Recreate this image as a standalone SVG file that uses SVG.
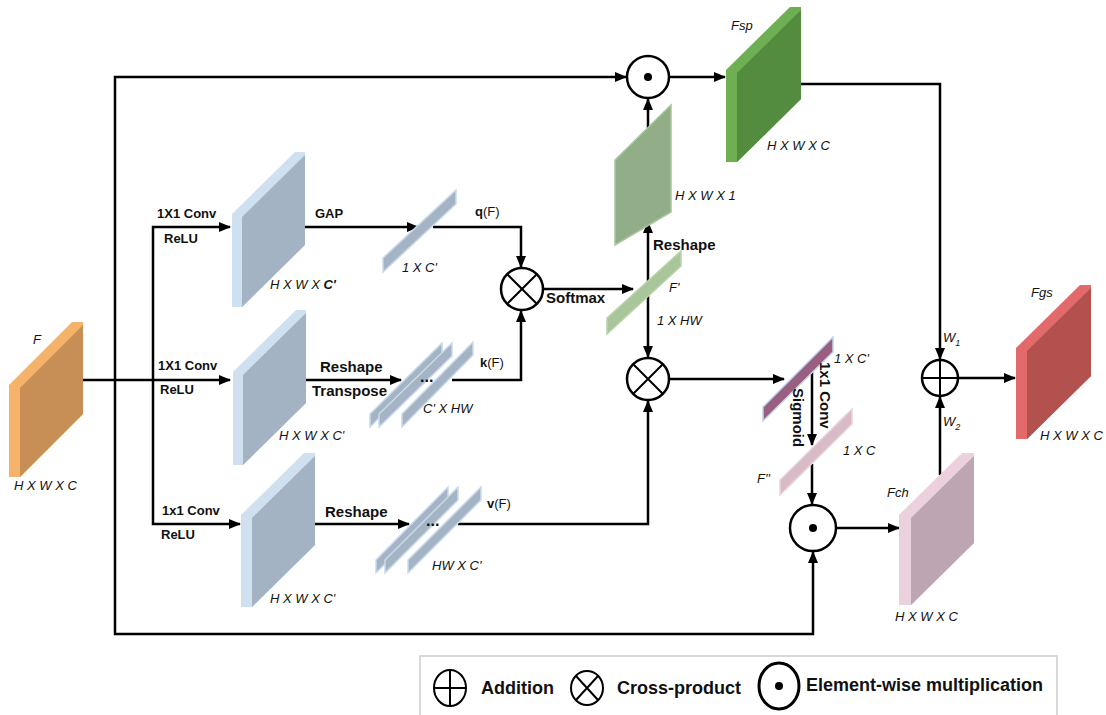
<svg xmlns="http://www.w3.org/2000/svg" width="1106" height="715" viewBox="0 0 1106 715">
<defs>
<marker id="ah" markerWidth="12" markerHeight="10" refX="11" refY="5" markerUnits="userSpaceOnUse" orient="auto-start-reverse"><path d="M0,0 L12,5 L0,10 z" fill="#000"/></marker>
<style>
text{font-family:"Liberation Sans",Arial,sans-serif;fill:#111}
.b{font-weight:bold;font-size:13px}
.b15{font-weight:bold;font-size:15px}
.i{font-style:italic;font-size:13px}
.lg{font-weight:bold;font-size:18px}
.c{fill:none;stroke:#000;stroke-width:2.5;marker-end:url(#ah)}
.op{fill:#fff;stroke:#000;stroke-width:2.5}
.opl{stroke:#000;stroke-width:2}
.bl{fill:#CFE0F1}.bd{fill:#A3B3C3}
.st{fill:#A4B4C4;stroke:#C9DAEC;stroke-width:1.5}
</style>
</defs>
<rect width="1106" height="715" fill="#fff"/>

<g id="connectors">
<path class="c" d="M83,380 H230"/>
<path class="c" d="M153,380 V227 H230"/>
<path class="c" d="M153,380 V524 H240"/>
<path class="c" d="M115,380 V77 H626"/>
<path class="c" d="M115,380 V634 H813 V552"/>
<path class="c" d="M305,227 H418"/>
<path class="c" d="M433,227 H521 V267"/>
<path class="c" d="M306,380 H401"/>
<path class="c" d="M452,380 H521 V311"/>
<path class="c" d="M315,524 H409"/>
<path class="c" d="M458,524 H648 V401"/>
<path class="c" d="M543,289 H633"/>
<path class="c" d="M648,357 V222" style="marker-start:url(#ah)"/>
<path class="c" d="M648,128 V99"/>
<path class="c" d="M670,77 H725"/>
<path class="c" d="M801,84 H940 V359"/>
<path class="c" d="M669,379 H784"/>
<path class="c" d="M812,372 V445"/>
<path class="c" d="M812,464 V504"/>
<path class="c" d="M836,528 H899"/>
<path class="c" d="M940,475 V397"/>
<path class="c" d="M958,378 H1015"/>
</g>

<g id="node-F">
<polygon points="9,385 72,322 83,322 83,414 20,477 9,477" fill="#F5B26B"/>
<polygon points="20,388 83,325 83,414 20,477" fill="#C78F55"/>
<text class="i" x="33" y="344" font-size="14">F</text>
<text class="i" x="14" y="490">H X W X C</text>
</g>

<g id="node-conv1">
<polygon class="bl" points="232,214 295,152 305,152 305,245 242,307 232,307"/>
<polygon class="bd" points="242,217 305,155 305,245 242,307"/>
<text class="b" x="157" y="218">1X1 Conv</text>
<text class="b" x="164" y="243">ReLU</text>
<text class="i" x="270" y="289">H X W X <tspan font-weight="bold">C'</tspan></text>
<text class="b" x="315" y="218">GAP</text>
</g>

<g id="node-q">
<polygon class="st" points="383,258 456,190 456,204 383,272"/>
<text class="i" x="402" y="272">1 X C'</text>
<text x="475" y="216" font-size="13"><tspan font-weight="bold">q</tspan>(F)</text>
</g>

<g id="node-conv2">
<polygon class="bl" points="233,372 296,310 306,310 306,403 243,465 233,465"/>
<polygon class="bd" points="243,375 306,313 306,403 243,465"/>
<text class="b" x="158" y="370">1X1 Conv</text>
<text class="b" x="160" y="394">ReLU</text>
<text class="i" x="279" y="440">H X W X C'</text>
<text class="b15" x="320" y="372">Reshape</text>
<text class="b15" x="312" y="396">Transpose</text>
</g>

<g id="node-k">
<polygon class="st" points="370,414 442,343 442,356 370,427"/>
<polygon class="st" points="379,414 452,343 452,356 379,427"/>
<polygon class="st" points="402,414 473,342 473,355 402,427"/>
<text x="420" y="382" font-size="16" font-weight="bold">...</text>
<text class="i" x="423" y="413">C' X HW</text>
<text x="480" y="367" font-size="13"><tspan font-weight="bold">k</tspan>(F)</text>
</g>

<g id="node-conv3">
<polygon class="bl" points="241,515 304,453 315,453 315,545 252,607 241,607"/>
<polygon class="bd" points="252,518 315,456 315,545 252,607"/>
<text class="b" x="162" y="515">1x1 Conv</text>
<text class="b" x="161" y="539">ReLU</text>
<text class="i" x="270" y="603">H X W X C'</text>
<text class="b15" x="325" y="517">Reshape</text>
</g>

<g id="node-v">
<polygon class="st" points="376,560 448,487 448,500 376,573"/>
<polygon class="st" points="385,560 458,487 458,500 385,573"/>
<polygon class="st" points="408,560 481,487 481,500 408,573"/>
<text x="426" y="526" font-size="16" font-weight="bold">...</text>
<text class="i" x="432" y="570">HW X C'</text>
<text x="487" y="508" font-size="13"><tspan font-weight="bold">v</tspan>(F)</text>
</g>

<g id="node-cross1">
<circle class="op" cx="522" cy="289" r="21"/>
<path class="opl" d="M507,274 L537,304 M537,274 L507,304"/>
<text class="b15" x="546" y="303">Softmax</text>
</g>

<g id="node-Fprime">
<polygon points="607,318 681,251 681,266 607,334" fill="#A8C69A" stroke="#B9D3AC" stroke-width="1.5"/>
<text class="i" x="669" y="292">F'</text>
<text class="i" x="657" y="325">1 X HW</text>
<text class="b15" x="653" y="250">Reshape</text>
</g>

<g id="node-map">
<polygon points="615,160 671,105 671,212 615,245" fill="#92AE88" stroke="#A9C59E" stroke-width="1.5"/>
<text class="i" x="675" y="200">H X W X 1</text>
</g>

<g id="node-mul1">
<circle class="op" cx="648" cy="77" r="21"/>
<circle cx="648" cy="77" r="4" fill="#000"/>
</g>

<g id="node-Fsp">
<polygon points="726,70 790,7 801,7 801,99 737,162 726,162" fill="#6DAF52"/>
<polygon points="737,73 801,10 801,99 737,162" fill="#538B3F"/>
<text class="i" x="731" y="30">Fsp</text>
<text class="i" x="767" y="150">H X W X C</text>
</g>

<g id="node-cross2">
<circle class="op" cx="648" cy="379" r="21"/>
<path class="opl" d="M633,364 L663,394 M663,364 L633,394"/>
</g>

<g id="node-purple">
<polygon points="763,407 833,337 833,352 763,421" fill="#9A5F80" stroke="#BFD6EC" stroke-width="1.5"/>
<text class="i" x="834" y="363">1 X C'</text>
<text class="b15" transform="translate(820,362) rotate(90)">1x1 Conv</text>
<text class="b15" transform="translate(793,388) rotate(90)">Sigmoid</text>
</g>

<g id="node-pink">
<polygon points="780,480 852,409 852,424 780,495" fill="#D9BAC7" stroke="#E9D3DD" stroke-width="1.5"/>
<text class="i" x="843" y="455">1 X C</text>
<text class="i" x="757" y="483">F''</text>
</g>

<g id="node-mul2">
<circle class="op" cx="813" cy="528" r="23"/>
<circle cx="813" cy="528" r="4" fill="#000"/>
</g>

<g id="node-Fch">
<polygon points="899,515 962,453 974,453 974,543 911,605 899,605" fill="#EBD1DD"/>
<polygon points="911,518 974,456 974,543 911,605" fill="#BDA5B1"/>
<text class="i" x="887" y="497">Fch</text>
<text class="i" x="895" y="621">H X W X C</text>
</g>

<g id="node-add">
<circle class="op" cx="940" cy="378" r="18"/>
<path class="opl" d="M922,378 H958 M940,360 V396"/>
<text class="i" x="943" y="342">W<tspan font-size="9" dy="4">1</tspan></text>
<text class="i" x="943" y="426">W<tspan font-size="9" dy="4">2</tspan></text>
</g>

<g id="node-Fgs">
<polygon points="1016,348 1080,285 1091,285 1091,376 1027,439 1016,439" fill="#E36A6A"/>
<polygon points="1027,351 1091,288 1091,376 1027,439" fill="#B3514F"/>
<text class="i" x="1031" y="297">Fgs</text>
<text class="i" x="1040" y="440">H X W X C</text>
</g>

<g id="legend">
<rect x="420" y="656" width="637" height="75" fill="#fff" stroke="#cccccc" stroke-width="1.5"/>
<ellipse cx="450" cy="688" rx="16" ry="18" fill="none" stroke="#000" stroke-width="2"/>
<path class="opl" d="M434,688 H466 M450,670 V706"/>
<text class="lg" x="481" y="694">Addition</text>
<ellipse cx="587" cy="688" rx="16" ry="17" fill="none" stroke="#000" stroke-width="2"/>
<path class="opl" d="M576,676 L598,700 M598,676 L576,700"/>
<text class="lg" x="617" y="694">Cross-product</text>
<ellipse cx="779" cy="686" rx="20" ry="23" fill="none" stroke="#000" stroke-width="3"/>
<circle cx="779" cy="686" r="4" fill="#000"/>
<text class="lg" x="806" y="691">Element-wise multiplication</text>
</g>
</svg>
